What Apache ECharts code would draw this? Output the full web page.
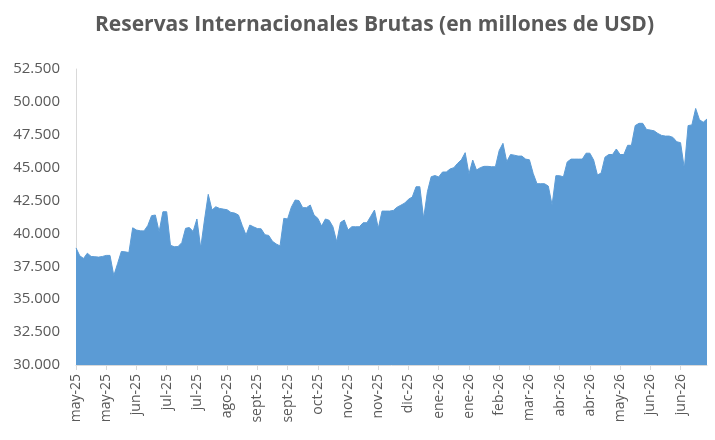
<!DOCTYPE html>
<html>
<head>
<meta charset="utf-8">
<script src="https://cdn.jsdelivr.net/npm/echarts@6/dist/echarts.min.js"></script>
<style>
html, body { margin: 0; padding: 0; background: #fff; }
#chart { width: 715px; height: 440px; }
</style>
</head>
<body>
<div id="chart"></div>
<script>
// reservas (millones de USD), one value per sampled day
var reservas = [
    38900, 38300, 38100, 38500, 38250, 38230, 38200, 38250, 38330, 38330,
    36800, 37700, 38630, 38600, 38550, 40430, 40260, 40200, 40190, 40600,
    41350, 41400, 40130, 41650, 41650, 39100, 38990, 39000, 39300, 40390,
    40450, 40150, 41100, 38900, 41020, 42970, 41780, 42030, 41900, 41850,
    41800, 41600, 41550, 41400, 40600, 39880, 40640, 40500, 40370, 40350,
    39900, 39850, 39400, 39200, 39050, 41150, 41100, 42000, 42540, 42500,
    41960, 41960, 42160, 41400, 41150, 40560, 41100, 41000, 40510, 39370,
    40830, 41020, 40260, 40510, 40510, 40510, 40815, 40815, 41300, 41780,
    40400, 41700, 41700, 41700, 41750, 42000, 42150, 42310, 42600, 42770,
    43550, 43550, 41150, 43170, 44310, 44400, 44300, 44670, 44670, 44900,
    45000, 45330, 45600, 46140, 44520, 45580, 44820, 45000, 45100, 45100,
    45070, 45070, 46300, 46850, 45450, 46000, 45950, 45880, 45880, 45650,
    45600, 44560, 43780, 43780, 43780, 43600, 42160, 44390, 44390, 44300,
    45430, 45650, 45650, 45650, 45650, 46100, 46100, 45580, 44440, 44600,
    45800, 46000, 46000, 46420, 46000, 46000, 46700, 46700, 48200, 48370,
    48370, 47900, 47860, 47800, 47600, 47450, 47400, 47400, 47300, 46970,
    46900, 44940, 48200, 48250, 49500, 48650, 48450, 48700
];

// one label every 8 samples
var tickLabels = [
    'may-25', 'may-25', 'jun-25', 'jul-25', 'jul-25', 'ago-25', 'sept-25', 'sept-25',
    'oct-25', 'nov-25', 'nov-25', 'dic-25', 'ene-26', 'ene-26', 'feb-26', 'mar-26',
    'abr-26', 'abr-26', 'may-26', 'jun-26', 'jun-26'
];
var step = 8;

var days = [];
for (var i = 0; i < reservas.length; i++) {
    days.push(String(i));
}

var chart = echarts.init(document.getElementById('chart'));
chart.setOption({
    animation: false,
    title: {
        text: 'Reservas Internacionales Brutas (en millones de USD)',
        left: 90,
        top: 10,
        textStyle: {
            fontFamily: 'Open Sans',
            fontSize: 21,
            fontWeight: 'bold',
            color: '#595959'
        }
    },
    grid: {
        left: 76,
        right: 8,
        top: 69,
        bottom: 75
    },
    xAxis: {
        type: 'category',
        boundaryGap: false,
        data: days,
        axisLine: { lineStyle: { color: '#d9d9d9' } },
        axisTick: {
            interval: step - 1,
            length: 5,
            lineStyle: { color: '#d9d9d9' }
        },
        axisLabel: {
            interval: step - 1,
            rotate: 90,
            margin: 9,
            fontFamily: 'Open Sans',
            fontSize: 14,
            color: '#595959',
            formatter: function (value, index) {
                return tickLabels[Math.round(index / step)] || '';
            }
        }
    },
    yAxis: {
        type: 'value',
        min: 30000,
        max: 52500,
        interval: 2500,
        axisLine: { show: true, lineStyle: { color: '#d9d9d9' } },
        axisTick: { show: false },
        splitLine: { show: false },
        axisLabel: {
            margin: 16,
            fontFamily: 'Open Sans',
            fontSize: 15,
            color: '#595959',
            formatter: function (v) {
                return String(v).replace(/(\d)(?=(\d{3})+$)/g, '$1.');
            }
        }
    },
    series: [{
        name: 'Reservas',
        type: 'line',
        data: reservas,
        showSymbol: false,
        symbol: 'none',
        lineStyle: { width: 1, color: '#5b9bd5' },
        areaStyle: { color: '#5b9bd5', opacity: 1 }
    }]
});
</script>
</body>
</html>
